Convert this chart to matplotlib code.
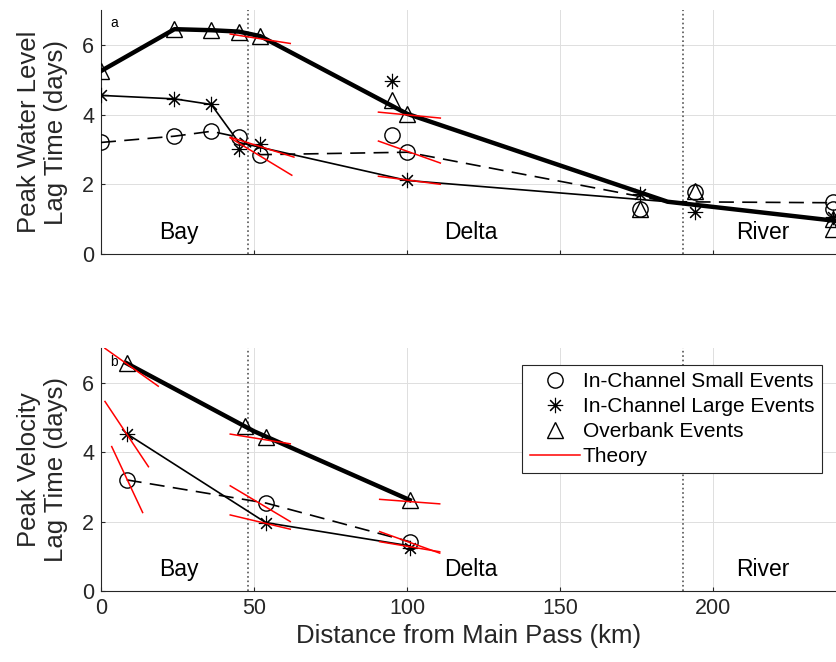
import matplotlib
matplotlib.use("Agg")
import matplotlib.pyplot as plt
from matplotlib.lines import Line2D

plt.rcParams['font.family'] = ['Liberation Sans', 'DejaVu Sans']

# ---- panel a: peak water level lag time ----
wl_small_x = [0, 24, 36, 45, 52, 95, 100, 176, 194, 239, 239]
wl_small_y = [3.2, 3.38, 3.52, 3.35, 2.83, 3.42, 2.92, 1.3, 1.78, 1.5, 1.3]
wl_large_x = [0, 24, 36, 45, 52, 95, 100, 176, 194, 239]
wl_large_y = [4.55, 4.45, 4.29, 3.02, 3.16, 4.97, 2.11, 1.73, 1.2, 1.05]
wl_over_x = [0, 24, 36, 45, 52, 95, 100, 176, 194, 239, 239]
wl_over_y = [5.25, 6.45, 6.42, 6.38, 6.25, 4.42, 4.02, 1.3, 1.8, 1.0, 0.72]

# connecting lines (site means)
wl_small_lx = [0, 24, 36, 45, 52, 100, 185, 240]
wl_small_ly = [3.2, 3.38, 3.52, 3.35, 2.85, 2.92, 1.5, 1.47]
wl_large_lx = [0, 24, 36, 45, 100, 185, 240]
wl_large_ly = [4.55, 4.45, 4.29, 3.2, 2.11, 1.5, 0.93]
wl_over_lx = [0, 24, 36, 45, 52, 100, 185, 240]
wl_over_ly = [5.25, 6.45, 6.42, 6.38, 6.25, 4.02, 1.5, 0.95]

# theory segments
wl_th_x0 = [42.2, 42.2, 42.2, 90.6, 90.6, 90.6]
wl_th_x1 = [61.8, 63.0, 62.3, 110.8, 110.8, 110.8]
wl_th_y0 = [6.31, 3.35, 3.33, 4.07, 3.24, 2.23]
wl_th_y1 = [6.04, 2.78, 2.26, 3.90, 2.61, 2.00]

# ---- panel b: peak velocity lag time ----
v_small_x = [8.4, 54, 100.8]
v_small_y = [3.2, 2.53, 1.42]
v_large_x = [8.6, 53.8, 100.8]
v_large_y = [4.52, 1.97, 1.23]
v_over_x = [8.4, 47, 53.8, 100.8]
v_over_y = [6.56, 4.75, 4.45, 2.62]

v_small_lx = [8.4, 54, 100.8]
v_small_ly = [3.2, 2.53, 1.42]
v_large_lx = [8.6, 53.8, 100.8]
v_large_ly = [4.52, 1.97, 1.3]
v_over_lx = [8.4, 50, 100.8]
v_over_ly = [6.56, 4.6, 2.62]

v_th_x0 = [1.3, 1.3, 3.5, 42.2, 42.2, 42.2, 91, 91, 91]
v_th_x1 = [18.7, 15.5, 13.6, 61.8, 61.8, 61.8, 110.6, 110.6, 110.6]
v_th_y0 = [6.99, 5.46, 4.16, 4.52, 3.03, 2.19, 2.64, 1.71, 1.42]
v_th_y1 = [5.90, 3.58, 2.26, 4.24, 2.00, 1.78, 2.51, 1.09, 1.13]

region_names = ['Bay', 'Delta', 'River']
region_x = [25.5, 120.6, 216]
boundaries = [48, 190]

legend_labels = ['In-Channel Small Events', 'In-Channel Large Events',
                 'Overbank Events', 'Theory']

star = (8, 2, 0)
ms = 11
dash = (0, (9, 5))
axcol = '#262626'

fig = plt.figure(figsize=(8.36, 6.62), dpi=100)
ax1 = fig.add_axes([0.1208, 0.6163, 0.8792, 0.3686])
ax2 = fig.add_axes([0.1208, 0.1073, 0.8792, 0.3670])


def style(ax, ylabel, show_x):
    ax.set_xlim(0, 240)
    ax.set_ylim(0, 7)
    ax.set_xticks([0, 50, 100, 150, 200])
    ax.set_yticks([0, 2, 4, 6])
    ax.grid(True, color='#dedede', lw=0.7)
    ax.set_axisbelow(True)
    for s in ['top', 'right']:
        ax.spines[s].set_visible(False)
    for s in ['left', 'bottom']:
        ax.spines[s].set_color(axcol)
        ax.spines[s].set_linewidth(0.8)
    ax.tick_params(direction='in', length=3, width=0.8, colors=axcol,
                   labelsize=15.5, pad=5, labelcolor=axcol)
    if not show_x:
        ax.tick_params(labelbottom=False)
    ax.set_ylabel(ylabel, fontsize=18.5, color=axcol, linespacing=1.15)
    ax.yaxis.set_label_coords(-0.045, 0.5)
    for b in boundaries:
        ax.axvline(b, color='#555555', ls=':', lw=1.2, zorder=1)
    for name, x in zip(region_names, region_x):
        ax.text(x, 0.42, name, ha='center', va='baseline', fontsize=16.5,
                color='black')


style(ax1, 'Peak Water Level\nLag Time (days)', False)
style(ax2, 'Peak Velocity\nLag Time (days)', True)
ax2.set_xlabel('Distance from Main Pass (km)', fontsize=18.5, color=axcol,
               labelpad=4)

# panel a
ax1.plot(wl_small_lx, wl_small_ly, color='k', ls=dash, lw=1.2, zorder=3)
ax1.plot(wl_large_lx, wl_large_ly, color='k', lw=1.2, zorder=3)
ax1.plot(wl_over_lx, wl_over_ly, color='k', lw=3.2, zorder=3)
ax1.plot(wl_small_x, wl_small_y, ls='none', marker='o', ms=ms, mfc='none',
         mec='k', mew=1, zorder=4)
ax1.plot(wl_large_x, wl_large_y, ls='none', marker=star, ms=ms, mec='k',
         mew=0.8, zorder=4)
ax1.plot(wl_over_x, wl_over_y, ls='none', marker='^', ms=ms, mfc='none',
         mec='k', mew=1, zorder=4)
for x0, x1, y0, y1 in zip(wl_th_x0, wl_th_x1, wl_th_y0, wl_th_y1):
    ax1.plot([x0, x1], [y0, y1], color='red', lw=1.1, zorder=5)
ax1.text(3, 6.63, 'a', fontsize=10, va='center', ha='left')

# panel b
ax2.plot(v_small_lx, v_small_ly, color='k', ls=dash, lw=1.2, zorder=3)
ax2.plot(v_large_lx, v_large_ly, color='k', lw=1.2, zorder=3)
ax2.plot(v_over_lx, v_over_ly, color='k', lw=3.2, zorder=3)
ax2.plot(v_small_x, v_small_y, ls='none', marker='o', ms=ms, mfc='none',
         mec='k', mew=1, zorder=4)
ax2.plot(v_large_x, v_large_y, ls='none', marker=star, ms=ms, mec='k',
         mew=0.8, zorder=4)
ax2.plot(v_over_x, v_over_y, ls='none', marker='^', ms=ms, mfc='none',
         mec='k', mew=1, zorder=4)
for x0, x1, y0, y1 in zip(v_th_x0, v_th_x1, v_th_y0, v_th_y1):
    ax2.plot([x0, x1], [y0, y1], color='red', lw=1.1, zorder=5)
ax2.text(3, 6.6, 'b', fontsize=10, va='center', ha='left')

handles = [
    Line2D([], [], ls='none', marker='o', ms=ms, mfc='none', mec='k', mew=1),
    Line2D([], [], ls='none', marker=star, ms=ms, mec='k', mew=0.8),
    Line2D([], [], ls='none', marker='^', ms=ms, mfc='none', mec='k', mew=1),
    Line2D([], [], color='red', lw=1.1),
]
leg = ax2.legend(handles, legend_labels, loc='upper right',
                 bbox_to_anchor=(821.7 / 836, 1 - 365 / 662),
                 bbox_transform=fig.transFigure, borderaxespad=0,
                 fontsize=15, frameon=True, fancybox=False, framealpha=1,
                 edgecolor=axcol, handlelength=2.4, handletextpad=0.15,
                 labelspacing=0.28, borderpad=0.35)
leg.get_frame().set_linewidth(0.8)

fig.savefig('out.png', dpi=100)
